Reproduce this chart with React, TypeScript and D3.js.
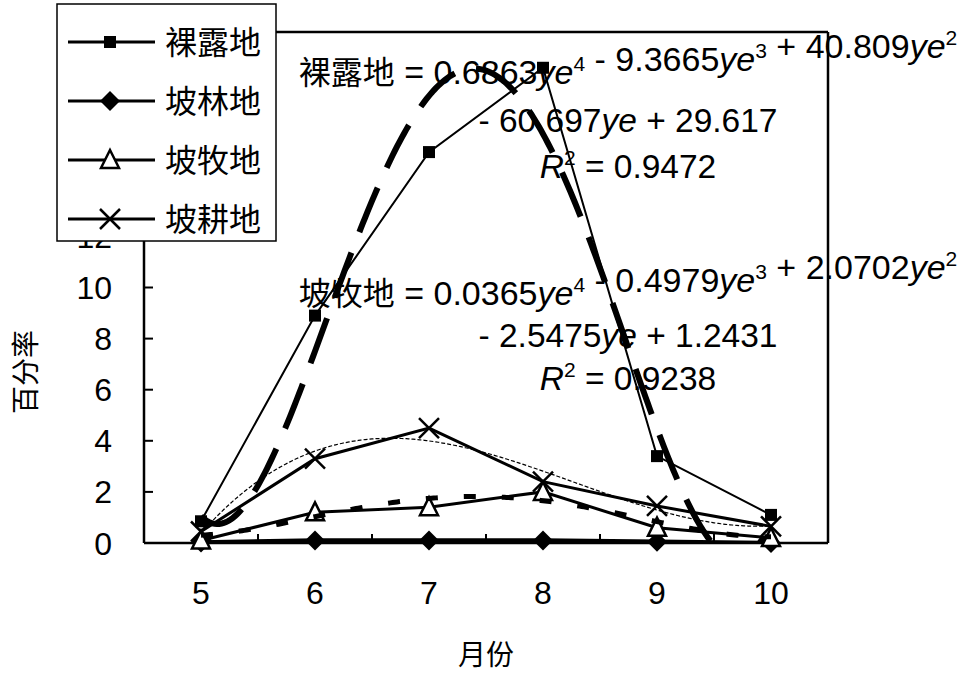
import React from 'react';
import * as d3 from 'd3';

const months = ['5', '6', '7', '8', '9', '10'];
const seriesNames = ['裸露地', '坡林地', '坡牧地', '坡耕地'];
const bareLand = [0.85, 8.9, 15.3, 18.6, 3.4, 1.1];
const slopeForest = [0.02, 0.1, 0.1, 0.1, 0.05, 0.0];
const slopePasture = [0.1, 1.2, 1.4, 2.0, 0.6, 0.2];
const slopeFarm = [0.45, 3.3, 4.5, 2.4, 1.45, 0.65];
const yTicks = [0, 2, 4, 6, 8, 10, 12, 14, 16, 18, 20];
// trendline coefficients as printed on the chart (constant term first)
const bareTrendCoef = [29.617, -60.697, 40.809, -9.3665, 0.6863];
const pastureTrendCoef = [1.2431, -2.5475, 2.0702, -0.4979, 0.0365];

const W = 964, H = 677;
const PL = 144, PR = 828, PT = 32, PB = 543;
const LATIN = '"Liberation Sans", Arial, sans-serif';
const CJK = '"Noto Sans CJK SC", sans-serif';

function polyEval(c: number[], x: number) {
  return c.reduce((s, ci, i) => s + ci * Math.pow(x, i), 0);
}

function polyFit(xs: number[], ys: number[], order: number) {
  const n = order + 1;
  const A: number[][] = [];
  for (let r = 0; r < n; r++) {
    const row: number[] = [];
    for (let c = 0; c < n; c++) row.push(d3.sum(xs, (x) => Math.pow(x, r + c)));
    row.push(d3.sum(xs, (x, i) => Math.pow(x, r) * ys[i]));
    A.push(row);
  }
  for (let i = 0; i < n; i++) {
    let p = i;
    for (let k = i + 1; k < n; k++) if (Math.abs(A[k][i]) > Math.abs(A[p][i])) p = k;
    [A[i], A[p]] = [A[p], A[i]];
    for (let k = i + 1; k < n; k++) {
      const f = A[k][i] / A[i][i];
      for (let j = i; j <= n; j++) A[k][j] -= f * A[i][j];
    }
  }
  const sol = new Array(n).fill(0);
  for (let i = n - 1; i >= 0; i--) {
    let s = A[i][n];
    for (let j = i + 1; j < n; j++) s -= A[i][j] * sol[j];
    sol[i] = s / A[i][i];
  }
  return sol;
}

const x = d3.scaleLinear().domain([0.5, 6.5]).range([PL, PR]);
const y = d3.scaleLinear().domain([0, 20]).range([PB, PT]);

const lineGen = d3
  .line<number>()
  .x((_, i) => x(i + 1))
  .y((d) => y(d));

const sampleXs = d3.range(1, 6.0001, 0.02);

function trendPath(c: number[]) {
  return d3
    .line<number>()
    .x((t) => x(t))
    .y((t) => y(polyEval(c, t)))(sampleXs) as string;
}

function Marker({ kind, cx, cy }: { kind: number; cx: number; cy: number }) {
  if (kind === 0) return <rect x={cx - 6} y={cy - 6} width={12} height={12} fill="#000" />;
  if (kind === 1)
    return <path d={`M${cx},${cy - 10}L${cx + 10},${cy}L${cx},${cy + 10}L${cx - 10},${cy}Z`} fill="#000" />;
  if (kind === 2)
    return (
      <path
        d={`M${cx},${cy - 10}L${cx + 9},${cy + 8}L${cx - 9},${cy + 8}Z`}
        fill="#fff"
        stroke="#000"
        strokeWidth={2.5}
      />
    );
  return (
    <g stroke="#000" strokeWidth={2.5}>
      <line x1={cx - 10} y1={cy - 10} x2={cx + 10} y2={cy + 10} />
      <line x1={cx - 10} y1={cy + 10} x2={cx + 10} y2={cy - 10} />
    </g>
  );
}

const EQ_FS = 34;

function Eq({ name, coefs, x0, y0 }: { name: string; coefs: string[]; x0: number; y0: number }) {
  const sup = (s: string) => (
    <>
      <tspan dy={-13} fontSize={21}>{s}</tspan>
      <tspan dy={13}>{''}</tspan>
    </>
  );
  return (
    <text x={x0} y={y0} textAnchor="middle" fontFamily={LATIN} fontSize={EQ_FS} fill="#000">
      <tspan fontFamily={CJK} fontSize={32}>{name}</tspan>
      <tspan>{` = ${coefs[0]}`}</tspan>
      <tspan fontStyle="italic">ye</tspan>
      {sup('4')}
      <tspan>{` - ${coefs[1]}`}</tspan>
      <tspan fontStyle="italic">ye</tspan>
      {sup('3')}
      <tspan>{` + ${coefs[2]}`}</tspan>
      <tspan fontStyle="italic">ye</tspan>
      {sup('2')}
    </text>
  );
}

function Line2({ a, b, x0, y0 }: { a: string; b: string; x0: number; y0: number }) {
  return (
    <text x={x0} y={y0} textAnchor="middle" fontFamily={LATIN} fontSize={33.5} fill="#000">
      <tspan>{`- ${a}`}</tspan>
      <tspan fontStyle="italic">ye</tspan>
      <tspan>{` + ${b}`}</tspan>
    </text>
  );
}

function R2({ v, x0, y0 }: { v: string; x0: number; y0: number }) {
  return (
    <text x={x0} y={y0} textAnchor="middle" fontFamily={LATIN} fontSize={33.5} fill="#000">
      <tspan fontStyle="italic">R</tspan>
      <tspan dy={-13} fontSize={21}>2</tspan>
      <tspan dy={13}>{` = ${v}`}</tspan>
    </text>
  );
}

export default function App() {
  const allSeries = [bareLand, slopeForest, slopePasture, slopeFarm];
  const widths = [2, 4.5, 3, 3];
  const farmCoef = polyFit([1, 2, 3, 4, 5, 6], slopeFarm, 3);
  const legendY = [42, 101, 160, 219];
  return (
    <svg width={W} height={H} style={{ position: 'absolute', left: 0, top: 0, background: '#fff' }}>
      <defs>
        <clipPath id="plotclip">
          <rect x={PL} y={PT} width={PR - PL} height={PB - PT} />
        </clipPath>
      </defs>
      <rect x={0} y={0} width={W} height={H} fill="#fff" />
      {/* plot frame */}
      <line x1={PL} y1={PT} x2={PR} y2={PT} stroke="#000" strokeWidth={2.5} />
      <line x1={PR} y1={PT} x2={PR} y2={PB} stroke="#000" strokeWidth={2.5} />
      <line x1={PL} y1={PT} x2={PL} y2={PB} stroke="#000" strokeWidth={2.5} />
      <line x1={PL} y1={PB} x2={PR} y2={PB} stroke="#000" strokeWidth={2.5} />
      {/* y ticks */}
      {yTicks.map((t) => (
        <g key={t}>
          <line x1={PL} x2={PL + 9} y1={y(t)} y2={y(t)} stroke="#000" strokeWidth={2} />
          <text x={112} y={y(t)} dy="0.36em" textAnchor="end" fontFamily={LATIN} fontSize={32}>
            {t}
          </text>
        </g>
      ))}
      {/* x ticks */}
      {months.map((m, i) => (
        <g key={m}>
          {i > 0 && (
            <line x1={x(i + 0.5)} x2={x(i + 0.5)} y1={PB} y2={PB - 9} stroke="#000" strokeWidth={2} />
          )}
          <text x={x(i + 1)} y={604} textAnchor="middle" fontFamily={LATIN} fontSize={32}>
            {m}
          </text>
        </g>
      ))}
      <text x={(PL + PR) / 2} y={665} textAnchor="middle" fontFamily={CJK} fontSize={28}>
        月份
      </text>
      <text
        transform={`translate(26,372) rotate(-90)`}
        textAnchor="middle"
        dy="0.36em"
        fontFamily={CJK}
        fontSize={28}
      >
        百分率
      </text>
      {/* series */}
      <g clipPath="url(#plotclip)">
        {allSeries.map((s, k) => (
          <path key={k} d={lineGen(s) as string} fill="none" stroke="#000" strokeWidth={widths[k]} />
        ))}
      </g>
      {allSeries.map((s, k) => (
        <g key={k}>
          {s.map((v, i) => (
            <Marker key={i} kind={k} cx={x(i + 1)} cy={y(v)} />
          ))}
        </g>
      ))}
      {/* trendlines */}
      <g clipPath="url(#plotclip)" fill="none" stroke="#000">
        <path d={trendPath(bareTrendCoef)} strokeWidth={6} strokeDasharray="48,22" />
        <path d={trendPath(pastureTrendCoef)} strokeWidth={5} strokeDasharray="12,26" />
        <path d={trendPath(farmCoef)} strokeWidth={1.2} strokeDasharray="4,2" />
      </g>
      {/* equations */}
      <Eq name="裸露地" coefs={['0.6863', '9.3665', '40.809']} x0={628} y0={84} />
      <Line2 a="60.697" b="29.617" x0={628} y0={132} />
      <R2 v="0.9472" x0={628} y0={178} />
      <Eq name="坡牧地" coefs={['0.0365', '0.4979', '2.0702']} x0={628} y0={305} />
      <Line2 a="2.5475" b="1.2431" x0={628} y0={347} />
      <R2 v="0.9238" x0={628} y0={390} />
      {/* legend */}
      <rect x={57} y={4} width={219} height={237} fill="#fff" stroke="#000" strokeWidth={1.5} />
      {seriesNames.map((n, k) => (
        <g key={n}>
          <line x1={68} x2={155} y1={legendY[k]} y2={legendY[k]} stroke="#000" strokeWidth={3} />
          <Marker kind={k} cx={110} cy={legendY[k]} />
          <text x={165} y={legendY[k]} dy="0.36em" fontFamily={CJK} fontSize={32}>
            {n}
          </text>
        </g>
      ))}
    </svg>
  );
}
